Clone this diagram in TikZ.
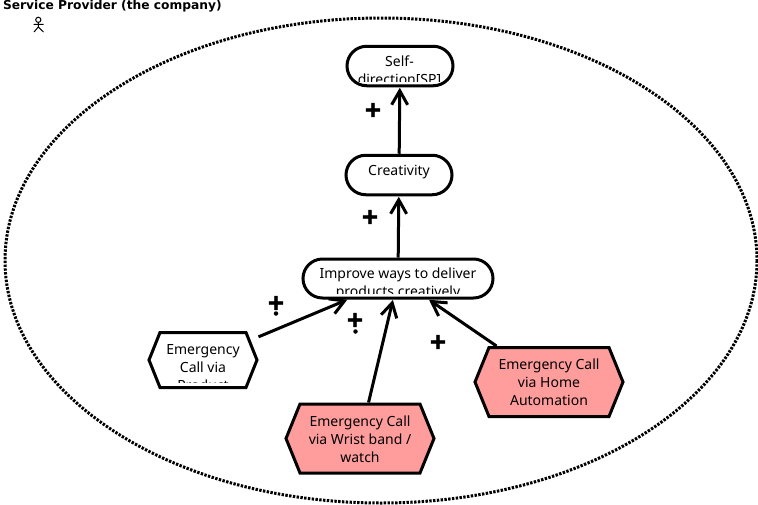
\documentclass[tikz,border=0pt]{standalone}
\usepackage{fontspec}
\setmainfont{Noto Sans}
\newfontfamily\titlefont{DejaVu Sans Bold}
\newfontfamily\plusfont[FakeBold=2.5]{DejaVu Sans Bold}
\usetikzlibrary{shapes.misc,arrows.meta}
\definecolor{hexred}{HTML}{FF9C9C}
\tikzset{
  x=1pt,y=-1pt,
  every node/.style={inner sep=0pt,outer sep=0pt},
  pill/.style={rounded rectangle,draw=black,line width=3pt,fill=white,outer sep=1.5pt},
  hexbox/.style={rectangle,outer sep=1.5pt},
  hexline/.style={draw=black,line width=3pt,line join=miter},
  body/.style={align=center,font=\fontsize{14}{18}\selectfont,text=black},
  link/.style={draw=black,line width=3pt,-{Straight Barb[length=14pt,width=16pt,line width=3pt]},shorten >=0.5pt},
  plusmark/.style={font=\plusfont\fontsize{22}{22}\selectfont,text=black},
  dotmark/.style={circle,fill=black,minimum size=4.5pt},
  boundary/.style={draw=black,line width=3pt,dash pattern=on 2.4pt off 1.4pt}
}
\newcommand{\hexshape}[7]{% name, cx, cy, halfw, halfh, inset, fill
  \path[hexline,fill=#7] (#2-#4,#3) -- (#2-#4+#6,#3-#5) -- (#2+#4-#6,#3-#5) -- (#2+#4,#3) -- (#2+#4-#6,#3+#5) -- (#2-#4+#6,#3+#5) -- cycle;
  \node[hexbox,minimum width=2*#4 pt,minimum height=2*#5 pt] (#1) at (#2,#3) {};
}
\begin{document}
\begin{tikzpicture}
\useasboundingbox (0,0) rectangle (758,504);
\fill[white] (0,0) rectangle (758,504);
% boundary
\draw[boundary] (381,260.5) ellipse [x radius=376,y radius=242.5];
% title and actor
\node[anchor=west,font=\titlefont\fontsize{12.25}{15}\selectfont] (title) at (3,6) {Service Provider (the company)};
\draw[line width=1pt] (38.3,19.8) circle (2.6);
\draw[line width=1pt] (38.3,22.4) -- (38.3,27) (33.5,24.3) -- (43.5,24.3) (34,32) -- (38.3,27) -- (43.5,32);
% goal shapes
\node[pill,minimum width=106pt,minimum height=39.5pt] (self) at (400,66) {};
\node[pill,minimum width=106pt,minimum height=39.5pt] (creat) at (399,175) {};
\node[pill,minimum width=190pt,minimum height=39pt] (impr) at (398,278.5) {};
\hexshape{prod}{203}{360}{54}{27.5}{11}{white}
\hexshape{wrist}{360}{438.5}{74}{34.5}{14}{hexred}
\hexshape{home}{549}{382}{74}{34.5}{14}{hexred}
% connectors
\draw[link] (creat) -- (self);
\draw[link] (impr) -- (creat);
\draw[link] (prod) -- (impr);
\draw[link] (wrist) -- (impr);
\draw[link] (home) -- (impr);
% texts
\begin{scope}
\clip (346,45) rectangle (454,81.5);
\node[body] (selftext) at (399.5,71.5) {Self-\\direction[SP]};
\end{scope}
\node[body] (creattext) at (399,172) {Creativity};
\begin{scope}
\clip (302,258) rectangle (494,293);
\node[body] (imprtext) at (398,284) {Improve ways to deliver\\products creatively};
\end{scope}
\begin{scope}
\clip (149,332) rectangle (257,382);
\node[body] (prodtext) at (203,368) {Emergency\\Call via\\Product};
\end{scope}
\node[body] (wristtext) at (360,439.5) {Emergency Call\\via Wrist band /\\watch};
\node[body] (hometext) at (549,382) {Emergency Call\\via Home\\Automation};
% contribution marks
\node[plusmark] (p1) at (373,110) {+};
\node[plusmark] (p2) at (370,217) {+};
\node[plusmark] (p3) at (276,303) {+};
\node[dotmark] (d3) at (276,313.5) {};
\node[plusmark] (p4) at (355,320) {+};
\node[dotmark] (d4) at (355.5,331.5) {};
\node[plusmark] (p5) at (438,342) {+};
\end{tikzpicture}
\end{document}
